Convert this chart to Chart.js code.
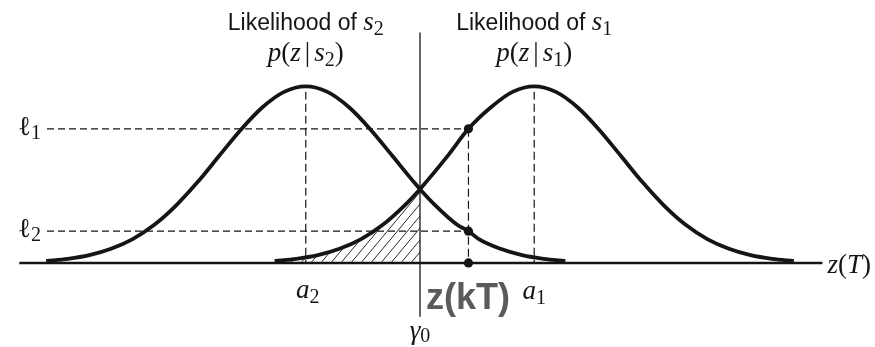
<!DOCTYPE html>
<html>
<head>
<meta charset="utf-8">
<script src="https://cdn.jsdelivr.net/npm/chart.js@4.4.1/dist/chart.umd.min.js"></script>
<style>
  html, body { margin: 0; padding: 0; background: #fff; }
  #wrap { width: 875px; height: 347px; }
</style>
</head>
<body>
<div id="wrap"><canvas id="c" width="875" height="347"></canvas></div>
<script>
// Decision variable z(T): two conditional likelihoods with threshold gamma0.
const a2 = -1.32;          // mean of p(z|s2)
const a1 = 1.32;           // mean of p(z|s1)
const gamma0 = 0;          // decision threshold
const zkT = 0.56;          // observed sample z(kT)
const l1 = 0.76;           // p(z(kT)|s1)
const l2 = 0.18;           // p(z(kT)|s2)

const zLeft = [-4.32, -4.07, -3.82, -3.57, -3.32, -3.07, -2.82, -2.57, -2.32, -2.07, -1.82, -1.57, -1.32,
               -1.07, -0.82, -0.57, -0.32, -0.07, 0, 0.18, 0.43, 0.56, 0.68, 0.93, 1.18, 1.43, 1.68];
const pLeft = [0.011, 0.023, 0.044, 0.080, 0.135, 0.216, 0.325, 0.458, 0.607, 0.755, 0.882, 0.969, 1.0,
               0.969, 0.882, 0.755, 0.607, 0.458, 0.418, 0.325, 0.216, 0.18, 0.135, 0.080, 0.044, 0.023, 0.011];

const zRight = [-1.68, -1.43, -1.18, -0.93, -0.68, -0.43, -0.18, 0, 0.07, 0.32, 0.56, 0.82, 1.07, 1.32,
                1.57, 1.82, 2.07, 2.32, 2.57, 2.82, 3.07, 3.32, 3.57, 3.82, 4.07, 4.32];
const pRight = [0.011, 0.023, 0.044, 0.080, 0.135, 0.216, 0.325, 0.418, 0.458, 0.607, 0.76, 0.882, 0.969, 1.0,
                0.969, 0.882, 0.755, 0.607, 0.458, 0.325, 0.216, 0.135, 0.080, 0.044, 0.023, 0.011];

// Extents of the axis, threshold line and guide lines
const axisRange = [-4.63, 4.65];
const gammaRange = [-0.305, 1.305];
const guideStart = -4.31;
const meanMarkTop = 0.97;

const zip = (xs, ys) => xs.map((x, i) => ({ x, y: ys[i] }));
const leftPts = zip(zLeft, pLeft);
const rightPts = zip(zRight, pRight);
const tailPts = rightPts.filter(p => p.x <= gamma0);

// Diagonal hatch for the error region
function hatchPattern() {
  const w = 10, h = 12;
  const cv = document.createElement('canvas');
  cv.width = w; cv.height = h;
  const g = cv.getContext('2d');
  g.strokeStyle = '#2a2a2a';
  g.lineWidth = 1;
  for (const x0 of [-w, 0, w]) {
    g.beginPath();
    g.moveTo(x0, h);
    g.lineTo(x0 + w, 0);
    g.stroke();
  }
  return g.createPattern(cv, 'repeat');
}

const INK = '#151515';
const SANS = '"Liberation Sans", Arial, sans-serif';
const SERIF = '"Liberation Serif", "Times New Roman", serif';
const F = {
  title: `23px ${SANS}`,
  it: `italic 27px ${SERIF}`,
  up: `27px ${SERIF}`,
  sub: `20px ${SERIF}`
};

function drawRuns(ctx, parts, x, y, align) {
  let total = 0;
  for (const p of parts) {
    ctx.font = p.f;
    p.w = ctx.measureText(p.t).width + (p.k || 0);
    total += p.w;
  }
  let cx = align === 'center' ? x - total / 2 : align === 'right' ? x - total : x;
  for (const p of parts) {
    ctx.font = p.f;
    ctx.fillText(p.t, cx, y + (p.dy || 0));
    cx += p.w;
  }
}

const labelPlugin = {
  id: 'mathLabels',
  afterDatasetsDraw(chart) {
    const { ctx, scales: { x, y } } = chart;
    ctx.save();
    ctx.fillStyle = INK;
    ctx.textBaseline = 'alphabetic';
    ctx.textAlign = 'left';

    const pa2 = x.getPixelForValue(a2);
    const pa1 = x.getPixelForValue(a1);
    const pg = x.getPixelForValue(gamma0);

    // Likelihood captions
    drawRuns(ctx, [
      { t: 'Likelihood of ', f: F.title },
      { t: 's', f: F.it },
      { t: '2', f: F.sub, dy: 5 }
    ], pa2, 30, 'center');
    drawRuns(ctx, [
      { t: 'p', f: F.it }, { t: '(', f: F.up }, { t: 'z', f: F.it, k: 4 },
      { t: '|', f: F.up, k: 4 }, { t: 's', f: F.it }, { t: '2', f: F.sub, dy: 5 }, { t: ')', f: F.up }
    ], pa2, 61, 'center');
    drawRuns(ctx, [
      { t: 'Likelihood of ', f: F.title },
      { t: 's', f: F.it },
      { t: '1', f: F.sub, dy: 5 }
    ], pa1, 30, 'center');
    drawRuns(ctx, [
      { t: 'p', f: F.it }, { t: '(', f: F.up }, { t: 'z', f: F.it, k: 4 },
      { t: '|', f: F.up, k: 4 }, { t: 's', f: F.it }, { t: '1', f: F.sub, dy: 5 }, { t: ')', f: F.up }
    ], pa1, 61, 'center');

    // Level labels
    const pl = x.getPixelForValue(guideStart) - 6;
    drawRuns(ctx, [{ t: 'ℓ', f: F.up }, { t: '1', f: F.sub, dy: 4 }], pl, y.getPixelForValue(l1) + 6, 'right');
    drawRuns(ctx, [{ t: 'ℓ', f: F.up }, { t: '2', f: F.sub, dy: 4 }], pl, y.getPixelForValue(l2) + 6, 'right');

    // Axis labels
    drawRuns(ctx, [{ t: 'a', f: F.it }, { t: '2', f: F.sub, dy: 5 }], pa2 + 2, 298, 'center');
    drawRuns(ctx, [{ t: 'a', f: F.it }, { t: '1', f: F.sub, dy: 5 }], pa1, 299, 'center');
    drawRuns(ctx, [{ t: 'γ', f: F.it }, { t: '0', f: F.sub, dy: 3 }], pg, 339, 'center');
    drawRuns(ctx, [
      { t: 'z', f: F.it }, { t: '(', f: F.up }, { t: 'T', f: F.it }, { t: ')', f: F.up }
    ], x.getPixelForValue(axisRange[1]) + 5, 273, 'left');

    // Sample label
    ctx.fillStyle = '#5a5a5a';
    ctx.font = `bold 36px ${SANS}`;
    ctx.fillText('z(kT)', pg + 6, 309);
    ctx.restore();
  }
};

const dashed = { borderColor: INK, borderWidth: 1.2, borderDash: [7, 4], pointRadius: 0, fill: false, tension: 0 };

new Chart(document.getElementById('c'), {
  type: 'line',
  data: {
    datasets: [
      { // hatched tail of p(z|s1) below gamma0
        data: tailPts, order: 10, borderWidth: 0, pointRadius: 0,
        backgroundColor: hatchPattern(), fill: 'origin', cubicInterpolationMode: 'monotone'
      },
      { // z(T) axis
        data: [{ x: axisRange[0], y: 0 }, { x: axisRange[1], y: 0 }], order: 9,
        borderColor: INK, borderWidth: 2.4, pointRadius: 0, fill: false
      },
      { ...dashed, order: 8, data: [{ x: guideStart, y: l1 }, { x: zkT, y: l1 }] },
      { ...dashed, order: 8, data: [{ x: guideStart, y: l2 }, { x: zkT, y: l2 }] },
      { ...dashed, order: 8, borderDash: [8, 4], data: [{ x: a2, y: meanMarkTop }, { x: a2, y: 0 }] },
      { ...dashed, order: 8, borderDash: [8, 4], data: [{ x: a1, y: meanMarkTop }, { x: a1, y: 0 }] },
      { ...dashed, order: 8, borderDash: [8, 4], data: [{ x: zkT, y: l1 }, { x: zkT, y: 0 }] },
      { // threshold gamma0
        data: [{ x: gamma0, y: gammaRange[1] }, { x: gamma0, y: gammaRange[0] }], order: 7,
        borderColor: INK, borderWidth: 1.3, pointRadius: 0, fill: false
      },
      { // p(z|s2)
        data: leftPts, order: 5, borderColor: INK, borderWidth: 3.8, pointRadius: 0,
        fill: false, cubicInterpolationMode: 'monotone', borderCapStyle: 'butt'
      },
      { // p(z|s1)
        data: rightPts, order: 5, borderColor: INK, borderWidth: 3.8, pointRadius: 0,
        fill: false, cubicInterpolationMode: 'monotone', borderCapStyle: 'butt'
      },
      { // sample points
        data: [{ x: zkT, y: l1 }, { x: zkT, y: l2 }, { x: zkT, y: 0 }], order: 1,
        showLine: false, pointRadius: 4.6, pointBackgroundColor: INK, pointBorderWidth: 0
      }
    ]
  },
  options: {
    responsive: false,
    animation: false,
    events: [],
    devicePixelRatio: 1,
    layout: { padding: { left: 0, right: 5, top: 7, bottom: 3 } },
    scales: {
      x: { type: 'linear', min: -4.8, max: 5.2, display: false },
      y: { type: 'linear', min: -0.45, max: 1.45, display: false }
    },
    plugins: { legend: { display: false }, tooltip: { enabled: false } }
  },
  plugins: [labelPlugin]
});
</script>
</body>
</html>
